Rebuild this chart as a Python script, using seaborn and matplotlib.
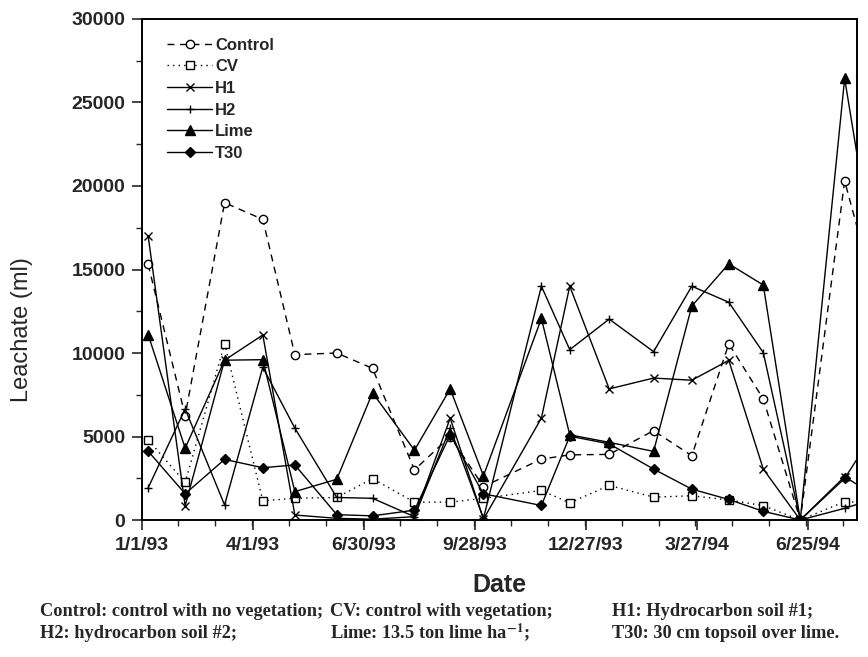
import matplotlib
matplotlib.use("Agg")
import matplotlib.pyplot as plt
import matplotlib.dates as mdates
import matplotlib.ticker as mticker
import numpy as np
import pandas as pd
import seaborn as sns

# sampling dates (last one lies past the right edge, so its segment is clipped)
DATES = pd.to_datetime([
    "1993-01-06", "1993-02-05", "1993-03-09", "1993-04-09", "1993-05-05",
    "1993-06-08", "1993-07-07", "1993-08-10", "1993-09-08", "1993-10-05",
    "1993-11-21", "1993-12-14", "1994-01-15", "1994-02-20", "1994-03-23",
    "1994-04-22", "1994-05-20", "1994-06-19", "1994-07-25", "1994-08-28",
])

CONTROL = [15300, 6250, 19000, 18000, 9900, 10000, 9080, 3000, 5000, 2000,
           3650, 3900, 3930, 5350, 3850, 10550, 7250, 0, 20300, 11000]
CV = [4800, 2250, 10550, 1150, 1300, 1350, 2480, 1070, 1070, 1300,
      1770, 1030, 2070, 1370, 1450, 1200, 860, 0, 1100, 1000]
H1 = [17000, 850, 9570, 11080, 300, 100, 50, 200, 6100, 50,
      6100, 14000, 7850, 8500, 8370, 9560, 3050, 0, 2600, 1000]
H2 = [1930, 6650, 900, 9150, 5500, 1350, 1300, 200, 5500, 100,
      14000, 10200, 12030, 10080, 14000, 13040, 10020, 0, 700, 1500]
LIME = [11100, 4300, 9570, 9600, 1700, 2440, 7620, 4180, 7850, 2650,
        12070, 5100, 4650, 4110, 12810, 15340, 14070, 0, 26440, 11000]
T30 = [4120, 1570, 3630, 3130, 3300, 320, 250, 590, 5100, 1570,
       870, 5020, 4560, 3050, 1850, 1230, 520, 0, 2490, 6400]

SERIES = ["Control", "CV", "H1", "H2", "Lime", "T30"]
VALUES = [CONTROL, CV, H1, H2, LIME, T30]

MAJOR_TICKS = pd.to_datetime(["1993-01-01", "1993-04-01", "1993-06-30", "1993-09-28",
                              "1993-12-27", "1994-03-27", "1994-06-25"])

CAPTION = [
    ["Control: control with no vegetation;", "CV: control with vegetation;",
     "H1: Hydrocarbon soil #1;"],
    ["H2: hydrocarbon soil #2;", r"Lime: 13.5 ton lime ha$^{\mathbf{-1}}$;",
     "T30: 30 cm topsoil over lime."],
]

STYLES = {
    "Control": dict(marker="o", mfc="white", ms=6, linestyle=(0, (5, 4))),
    "CV": dict(marker="s", mfc="white", ms=5.5, linestyle=(0, (1, 3))),
    "H1": dict(marker="x", mfc="black", ms=6, linestyle="-"),
    "H2": dict(marker="+", mfc="black", ms=6, linestyle="-"),
    "Lime": dict(marker="^", mfc="black", ms=7, linestyle="-"),
    "T30": dict(marker="D", mfc="black", ms=5, linestyle="-"),
}

sns.set_style("ticks")
plt.rcParams["font.family"] = ["Liberation Sans", "DejaVu Sans"]
plt.rcParams["mathtext.fontset"] = "stix"

fig = plt.figure(figsize=(8.68, 6.57), dpi=100)
ax = fig.add_axes([0.1636, 0.2085, 0.8237, 0.7626])

for name, vals in zip(SERIES, VALUES):
    st = STYLES[name]
    sns.lineplot(x=DATES, y=vals, ax=ax, color="black", lw=1.0,
                 marker=st["marker"], markersize=st["ms"],
                 markerfacecolor=st["mfc"], markeredgecolor="black",
                 markeredgewidth=1.0, linestyle=st["linestyle"],
                 label=name, estimator=None, sort=False)

ax.set_xlim(pd.Timestamp("1993-01-01"), pd.Timestamp("1994-08-04"))
ax.set_ylim(0, 30000)

ax.xaxis.set_major_locator(mticker.FixedLocator(mdates.date2num(MAJOR_TICKS)))
ax.xaxis.set_minor_locator(mticker.MultipleLocator(30))
ax.xaxis.set_major_formatter(mticker.FuncFormatter(
    lambda v, _: (lambda d: f"{d.month}/{d.day}/{d.year % 100:02d}")(mdates.num2date(v))))
ax.yaxis.set_major_locator(mticker.MultipleLocator(5000))
ax.yaxis.set_minor_locator(mticker.MultipleLocator(2500))

ax.tick_params(which="major", direction="out", length=7, width=1.2,
               labelsize=14, pad=5)
ax.tick_params(which="minor", direction="out", length=4, width=1.0)
for lab in ax.get_xticklabels() + ax.get_yticklabels():
    lab.set_fontweight("bold")

for sp in ax.spines.values():
    sp.set_visible(True)
    sp.set_linewidth(1.4)
    sp.set_color("black")

ax.set_xlabel("Date", fontsize=18, fontweight="bold")
ax.set_ylabel("Leachate (ml)", fontsize=17)
ax.xaxis.set_label_coords(0.5, -0.105)
ax.yaxis.set_label_coords(-0.152, 0.38)

leg = ax.legend(loc="upper left", bbox_to_anchor=(0.035, 0.963), frameon=False,
                fontsize=12, handlelength=2.7, handletextpad=0.2,
                labelspacing=0.4, borderpad=0, borderaxespad=0)
for t in leg.get_texts():
    t.set_fontweight("bold")

xs = [40 / 868, 330 / 868, 612 / 868]
ys = [1 - 612 / 657, 1 - 633 / 657]
for r, row in enumerate(CAPTION):
    for c, txt in enumerate(row):
        fig.text(xs[c], ys[r], txt, fontsize=13.2, fontweight="bold",
                 family=["Liberation Serif", "DejaVu Serif"], va="center", ha="left")

fig.savefig("out.png", dpi=100)
